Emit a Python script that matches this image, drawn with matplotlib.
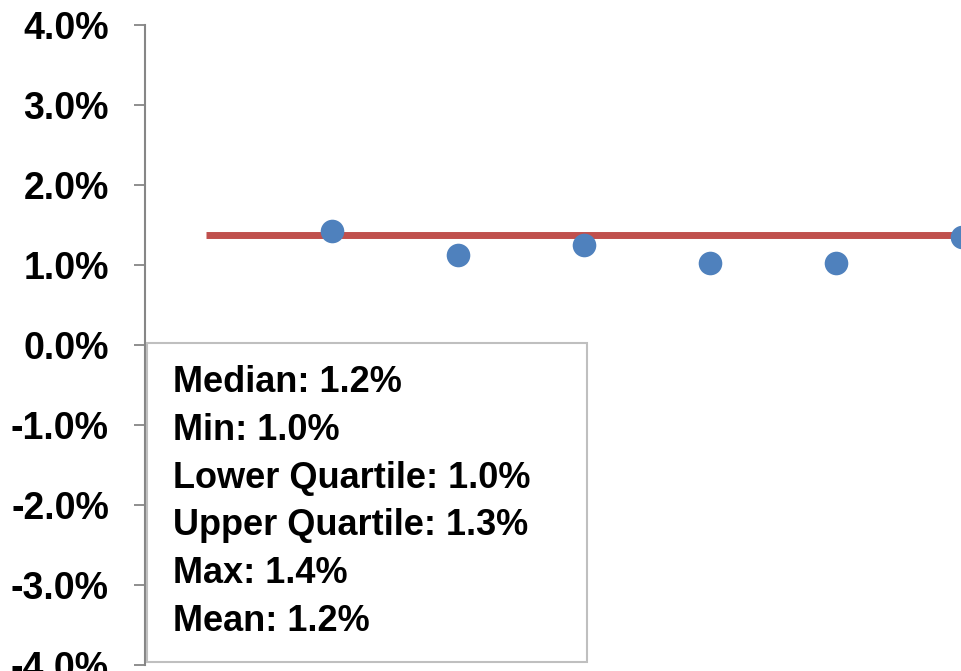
import matplotlib
matplotlib.use("Agg")
import matplotlib.pyplot as plt
from matplotlib.patches import Rectangle
from matplotlib.ticker import FuncFormatter

# Data
point_x = [1, 2, 3, 4, 5, 6]
point_values = [1.42, 1.13, 1.25, 1.03, 1.03, 1.35]   # percent
ref_line_x = [0, 7]
ref_line_value = 1.38                                   # percent
y_ticks = [-4, -3, -2, -1, 0, 1, 2, 3, 4]
stats_lines = [
    "Median: 1.2%",
    "Min: 1.0%",
    "Lower Quartile: 1.0%",
    "Upper Quartile: 1.3%",
    "Max: 1.4%",
    "Mean: 1.2%",
]

plt.rcParams['font.family'] = ['Liberation Sans', 'DejaVu Sans']

W, H = 961, 671
fig = plt.figure(figsize=(W / 100, H / 100), dpi=100)
ax_left, ax_right, ax_top, ax_bottom = 145, 961, 25, 665
ax = fig.add_axes([ax_left / W, (H - ax_bottom) / H,
                   (ax_right - ax_left) / W, (ax_bottom - ax_top) / H])

ax.plot(ref_line_x, [ref_line_value] * len(ref_line_x), color='#C0504D',
        linewidth=5, solid_capstyle='butt', zorder=2)
ax.plot(point_x, point_values, linestyle='none', marker='o', markersize=17,
        color='#4F81BD', markeredgewidth=0, zorder=3)

ax.set_xlim(-0.484, 5.992)
ax.set_ylim(-4, 4)
ax.set_yticks(y_ticks)
ax.yaxis.set_major_formatter(FuncFormatter(lambda v, p: f"{v:.1f}%"))
for lab in ax.get_yticklabels():
    lab.set_fontweight('bold')
ax.tick_params(axis='y', direction='out', length=8, width=1.3, color='#868686',
               pad=18, labelsize=27)
ax.set_xticks([])

for s in ['top', 'right', 'bottom']:
    ax.spines[s].set_visible(False)
ax.spines['left'].set_color('#868686')
ax.spines['left'].set_linewidth(1.5)

# Stats box
box_w = (587 - ax_left) / (ax_right - ax_left)
box_b = (ax_bottom - 662) / (ax_bottom - ax_top)
box_t = (ax_bottom - 343) / (ax_bottom - ax_top)
ax.add_patch(Rectangle((0.003, box_b), box_w - 0.003, box_t - box_b,
                       transform=ax.transAxes, facecolor='white',
                       edgecolor='#BFBFBF', linewidth=1.5, zorder=4,
                       clip_on=False))
tx = (173 - ax_left) / (ax_right - ax_left)
first_base = (ax_bottom - 392) / (ax_bottom - ax_top)
step = 47.8 / (ax_bottom - ax_top)
for i, line in enumerate(stats_lines):
    ax.text(tx, first_base - i * step, line, transform=ax.transAxes,
            fontsize=26, fontweight='bold', va='baseline', ha='left',
            color='black', zorder=5)

fig.savefig("out.png", dpi=100)
